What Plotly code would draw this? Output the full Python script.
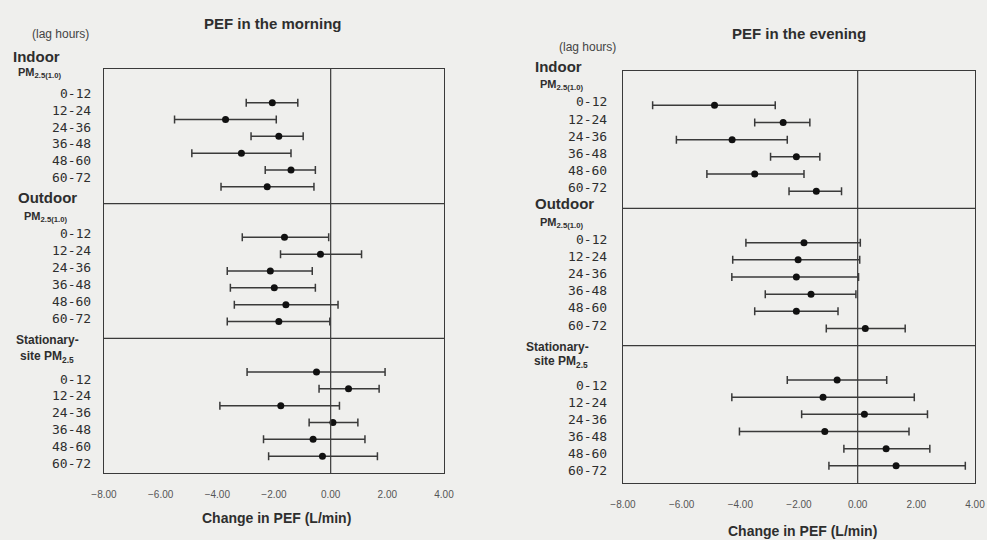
import plotly.graph_objects as go

# ---------------- data ----------------
lags = ["0-12", "12-24", "24-36", "36-48", "48-60", "60-72"]
ticks = [-8, -6, -4, -2, 0, 2, 4]

# Morning PEF change (L/min): estimate, lower CI, upper CI
m_indoor_est = [-2.06, -3.71, -1.83, -3.15, -1.40, -2.24]
m_indoor_lo = [-2.98, -5.51, -2.81, -4.90, -2.31, -3.87]
m_indoor_hi = [-1.16, -1.92, -0.97, -1.40, -0.54, -0.59]
m_outdoor_est = [-1.63, -0.36, -2.13, -1.99, -1.58, -1.83]
m_outdoor_lo = [-3.12, -1.77, -3.65, -3.54, -3.40, -3.65]
m_outdoor_hi = [-0.07, 1.09, -0.65, -0.54, 0.26, -0.03]
m_station_est = [-0.50, 0.63, -1.76, 0.08, -0.62, -0.29]
m_station_lo = [-2.95, -0.41, -3.91, -0.76, -2.37, -2.19]
m_station_hi = [1.92, 1.71, 0.31, 0.96, 1.21, 1.65]

# Evening PEF change (L/min)
e_indoor_est = [-4.88, -2.54, -4.28, -2.09, -3.51, -1.41]
e_indoor_lo = [-6.99, -3.51, -6.18, -2.97, -5.14, -2.34]
e_indoor_hi = [-2.81, -1.63, -2.40, -1.29, -1.83, -0.55]
e_outdoor_est = [-1.83, -2.03, -2.09, -1.59, -2.09, 0.26]
e_outdoor_lo = [-3.81, -4.26, -4.29, -3.15, -3.51, -1.07]
e_outdoor_hi = [0.09, 0.07, 0.03, -0.06, -0.67, 1.62]
e_station_est = [-0.70, -1.18, 0.23, -1.12, 0.97, 1.31]
e_station_lo = [-2.40, -4.29, -1.91, -4.03, -0.47, -0.98]
e_station_hi = [0.99, 1.93, 2.38, 1.75, 2.46, 3.67]

# ---------------- layout helpers ----------------
W, H = 987, 540
BG = "#efefed"
LINE = "#3a3a3a"
TXT = "#2e2e2e"
MONO = "DejaVu Sans Mono"
SANS = "Liberation Sans, Arial, sans-serif"

def px(x):
    return x / W

def py(y):
    return 1 - y / H

SLOTS_PER_GROUP = 8
HEAD_SLOTS = 2

fig = go.Figure()

panels = [
    dict(
        xa="x", ya="y",
        groups=[(m_indoor_est, m_indoor_lo, m_indoor_hi),
                (m_outdoor_est, m_outdoor_lo, m_outdoor_hi),
                (m_station_est, m_station_lo, m_station_hi)],
        box=(104, 444, 69, 473),
        label_x=93, label_shift=[-0.55, -0.2, 0.42],
    ),
    dict(
        xa="x2", ya="y2",
        groups=[(e_indoor_est, e_indoor_lo, e_indoor_hi),
                (e_outdoor_est, e_outdoor_lo, e_outdoor_hi),
                (e_station_est, e_station_lo, e_station_hi)],
        box=(623, 975, 71, 483),
        label_x=609, label_shift=[-0.2, -0.2, 0.3],
    ),
]

annotations = []
shapes = []
for p in panels:
    for g, (est, lo, hi) in enumerate(p["groups"]):
        ys = [g * SLOTS_PER_GROUP + HEAD_SLOTS + i for i in range(len(lags))]
        fig.add_trace(go.Scatter(
            x=est, y=ys, xaxis=p["xa"], yaxis=p["ya"], mode="markers",
            marker=dict(color="#111111", size=7, symbol="circle"),
            error_x=dict(type="data", symmetric=False,
                         array=[h - e for h, e in zip(hi, est)],
                         arrayminus=[e - l for e, l in zip(est, lo)],
                         color=LINE, thickness=1.5, width=4),
            showlegend=False, hoverinfo="skip",
        ))
        for i, lab in enumerate(lags):
            annotations.append(dict(
                x=px(p["label_x"]), xref="paper", xanchor="right",
                y=ys[i] + p["label_shift"][g], yref=p["ya"], yanchor="middle",
                text=lab, showarrow=False,
                font=dict(family=MONO, size=13, color=TXT),
            ))
    # zero line
    shapes.append(dict(type="line", xref=p["xa"], yref=p["ya"] + " domain",
                       x0=0, x1=0, y0=0, y1=1,
                       line=dict(color=LINE, width=1.2)))
    # group dividers
    for k in (1, 2):
        shapes.append(dict(type="line", xref=p["xa"] + " domain", yref=p["ya"],
                           x0=0, x1=1, y0=k * SLOTS_PER_GROUP, y1=k * SLOTS_PER_GROUP,
                           line=dict(color=LINE, width=1.2)))

def text(x, y, s, size, bold=False, anchor="left", family=SANS, color=TXT):
    annotations.append(dict(
        x=px(x), y=py(y), xref="paper", yref="paper",
        xanchor=anchor, yanchor="middle", showarrow=False,
        text=f"<b>{s}</b>" if bold else s,
        font=dict(family=family, size=size, color=color),
    ))

PM_IN = "PM<sub>2.5(1.0)</sub>"
PM_ST = "PM<sub>2.5</sub>"

# Left panel headers
text(273, 23, "PEF in the morning", 15, bold=True, anchor="center")
text(30, 34, "(lag hours)", 12, anchor="left", color="#444")
text(11, 56, "Indoor", 15, bold=True)
text(16, 73, PM_IN, 11, bold=True)
text(16, 197, "Outdoor", 15, bold=True)
text(22, 217, PM_IN, 11, bold=True)
text(47, 340, "Stationary-", 12, bold=True, anchor="center")
text(47, 357, "site " + PM_ST, 12, bold=True, anchor="center")
text(276, 518, "Change in PEF (L/min)", 14, bold=True, anchor="center")

# Right panel headers
text(799, 33, "PEF in the evening", 15, bold=True, anchor="center")
text(557, 47, "(lag hours)", 12, anchor="left", color="#444")
text(533, 66, "Indoor", 15, bold=True)
text(538, 85, PM_IN, 11, bold=True)
text(533, 203, "Outdoor", 15, bold=True)
text(538, 223, PM_IN, 11, bold=True)
text(524, 347, "Stationary-", 12, bold=True)
text(532, 362, "site " + PM_ST, 12, bold=True)
text(802, 531, "Change in PEF (L/min)", 14, bold=True, anchor="center")

n_slots = 3 * SLOTS_PER_GROUP

def xaxis(box):
    x0, x1, y0, y1 = box
    return dict(domain=[px(x0), px(x1)], range=[-8, 4], automargin=False,
                tickvals=ticks, tickformat=".2f", ticklabeloverflow="allow",
                ticks="outside", ticklen=12, tickcolor="rgba(0,0,0,0)",
                tickfont=dict(family=SANS, size=10, color="#555"),
                showgrid=False, zeroline=False,
                showline=True, mirror=True, linecolor=LINE, linewidth=1.2)

def yaxis(box, anchor):
    x0, x1, y0, y1 = box
    return dict(domain=[py(y1), py(y0)], range=[n_slots, 0], automargin=False,
                showticklabels=False, ticks="", showgrid=False, zeroline=False,
                showline=True, mirror=True, linecolor=LINE, linewidth=1.2,
                anchor=anchor)

b1 = panels[0]["box"]
b2 = panels[1]["box"]
lx = xaxis(b1); lx["anchor"] = "y"
rx = xaxis(b2); rx["anchor"] = "y2"

fig.update_layout(
    width=W, height=H,
    margin=dict(l=0, r=0, t=0, b=0),
    paper_bgcolor=BG, plot_bgcolor=BG,
    xaxis=lx, yaxis=yaxis(b1, "x"),
    xaxis2=rx, yaxis2=yaxis(b2, "x2"),
    annotations=annotations, shapes=shapes,
    showlegend=False,
)

fig.write_html("out.html")
